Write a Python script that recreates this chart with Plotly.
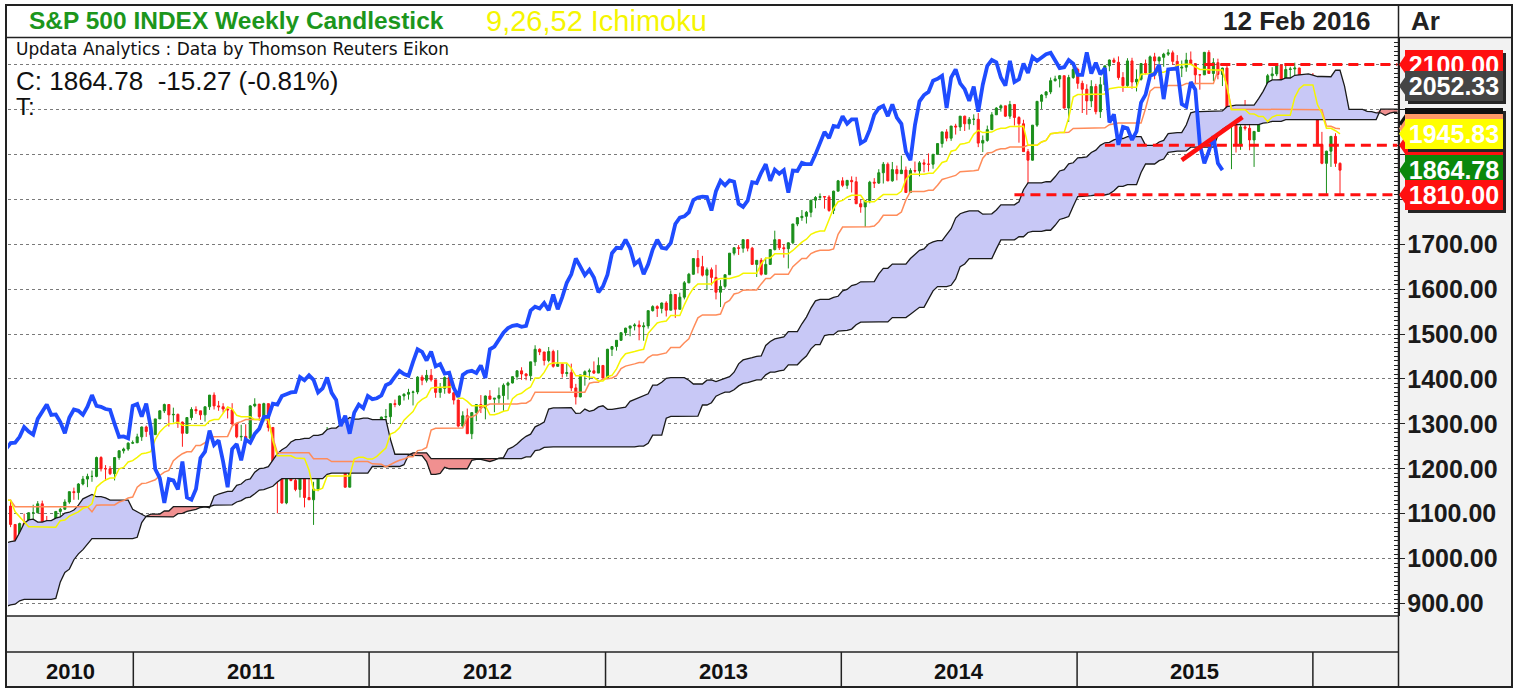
import numpy as np
import pandas as pd
import plotly.graph_objects as go

W, H = 1520, 688
def px(x): return x / W
def py(y): return 1 - y / H

# ---------------- data: S&P 500 weekly bars (Fridays), read/ -------------
first_week = "2008-12-05"

opens = [
    896, 876, 879, 888,
    873, 932, 890, 850, 832, 826, 869, 827, 770, 735, 683, 756, 768, 816, 843, 857, 870, 866, 877, 929, 882, 887,
    919, 940, 946, 921, 918, 896, 879, 940, 979, 987, 1010, 1005, 1026, 1029, 1016, 1042, 1068, 1044, 1025, 1071,
    1087, 1080, 1036, 1069, 1093, 1091, 1091, 1106, 1106, 1102,
    1126, 1115, 1145, 1136, 1091, 1074, 1066, 1075, 1109, 1104, 1139, 1150, 1160, 1167, 1179, 1194, 1192, 1217,
    1187, 1111, 1136, 1087, 1089, 1065, 1092, 1117, 1076, 1022, 1078, 1065, 1102, 1102, 1122, 1079, 1071, 1065,
    1105, 1110, 1126, 1149, 1147, 1166, 1177, 1183, 1183, 1225, 1200, 1200, 1189, 1225, 1240, 1244, 1257,
    1258, 1271, 1293, 1283, 1276, 1311, 1329, 1343, 1320, 1321, 1304, 1279, 1314, 1332, 1329, 1320, 1338, 1364,
    1340, 1338, 1333, 1331, 1300, 1271, 1272, 1268, 1340, 1344, 1316, 1345, 1292, 1199, 1179, 1124, 1177, 1174,
    1154, 1216, 1136, 1131, 1155, 1224, 1238, 1285, 1253, 1263, 1216, 1159, 1244, 1255, 1219, 1265,
    1258, 1278, 1289, 1315, 1316, 1345, 1343, 1362, 1366, 1370, 1371, 1404, 1397, 1408, 1398, 1370, 1379, 1403,
    1369, 1353, 1295, 1318, 1278, 1325, 1343, 1335, 1362, 1355, 1357, 1363, 1386, 1391, 1405, 1418, 1411, 1407,
    1438, 1466, 1460, 1441, 1461, 1428, 1433, 1412, 1414, 1380, 1360, 1409, 1416, 1418, 1413, 1430,
    1402, 1466, 1472, 1486, 1503, 1513, 1518, 1520, 1516, 1518, 1552, 1561, 1557, 1569, 1553, 1588, 1555, 1582,
    1614, 1633, 1668, 1650, 1631, 1643, 1626, 1593, 1606, 1632, 1680, 1692, 1691, 1710, 1691, 1655, 1664, 1633,
    1655, 1688, 1710, 1692, 1690, 1703, 1745, 1759, 1762, 1771, 1798, 1804, 1806, 1805, 1775, 1818,
    1841, 1831, 1842, 1839, 1790, 1783, 1797, 1838, 1836, 1859, 1878, 1841, 1866, 1857, 1865, 1815, 1864, 1863,
    1881, 1878, 1878, 1900, 1924, 1950, 1936, 1963, 1961, 1985, 1968, 1978, 1978, 1925, 1931, 1955, 1988, 2003,
    2008, 1985, 2011, 1982, 1968, 1906, 1887, 1965, 2018, 2032, 2039, 2064, 2068, 2075, 2003, 2071,
    2089, 2058, 2045, 2019, 2051, 1995, 2055, 2097, 2110, 2105, 2071, 2053, 2108, 2061, 2067, 2102, 2081, 2117,
    2108, 2116, 2123, 2126, 2107, 2092, 2094, 2110, 2102, 2077, 2077, 2127, 2080, 2104, 2078, 2092, 1971, 1989,
    1921, 1961, 1958, 1932, 1951, 2015, 2033, 2075, 2079, 2099, 2023, 2089, 2090, 2092, 2012, 2006,
    2061, 2038, 1922, 1880, 1907, 1940, 1880,
]
highs = [
    919, 917, 918, 889,
    934, 943, 890, 871, 877, 875, 878, 827, 779, 736, 758, 804, 832, 845, 857, 875, 871, 888, 930, 930, 924, 920,
    951, 956, 946, 929, 930, 898, 943, 980, 997, 1018, 1013, 1027, 1040, 1031, 1049, 1074, 1080, 1064, 1076,
    1097, 1101, 1086, 1072, 1101, 1113, 1107, 1120, 1107, 1117, 1127,
    1130, 1145, 1151, 1150, 1103, 1104, 1080, 1110, 1112, 1139, 1153, 1170, 1174, 1181, 1195, 1214, 1218, 1220,
    1197, 1174, 1150, 1104, 1105, 1093, 1120, 1131, 1076, 1080, 1100, 1103, 1120, 1128, 1129, 1095, 1080, 1105,
    1113, 1132, 1149, 1158, 1168, 1184, 1189, 1196, 1227, 1228, 1208, 1206, 1225, 1241, 1247, 1259, 1263,
    1278, 1294, 1296, 1302, 1311, 1330, 1345, 1344, 1336, 1323, 1305, 1314, 1337, 1339, 1329, 1338, 1364, 1370,
    1351, 1346, 1334, 1346, 1300, 1298, 1299, 1342, 1357, 1344, 1347, 1345, 1292, 1200, 1208, 1182, 1230, 1204,
    1220, 1224, 1195, 1171, 1224, 1239, 1293, 1285, 1277, 1264, 1216, 1255, 1267, 1255, 1266, 1270,
    1285, 1297, 1316, 1333, 1345, 1354, 1363, 1368, 1378, 1374, 1406, 1409, 1420, 1422, 1398, 1391, 1406, 1415,
    1371, 1354, 1328, 1334, 1325, 1343, 1364, 1363, 1375, 1357, 1381, 1390, 1394, 1406, 1419, 1426, 1413, 1438,
    1475, 1468, 1460, 1471, 1465, 1464, 1434, 1434, 1434, 1389, 1409, 1419, 1423, 1439, 1448, 1430,
    1467, 1473, 1486, 1503, 1514, 1518, 1524, 1530, 1526, 1552, 1564, 1564, 1570, 1573, 1597, 1589, 1592, 1618,
    1636, 1668, 1687, 1674, 1648, 1648, 1654, 1620, 1632, 1680, 1693, 1698, 1710, 1711, 1694, 1664, 1669, 1670,
    1689, 1730, 1710, 1700, 1704, 1745, 1760, 1776, 1774, 1798, 1807, 1813, 1806, 1809, 1819, 1843,
    1849, 1843, 1851, 1850, 1799, 1798, 1841, 1847, 1867, 1883, 1882, 1883, 1875, 1897, 1873, 1869, 1884, 1885,
    1889, 1902, 1901, 1924, 1950, 1956, 1963, 1968, 1985, 1986, 1983, 1989, 1992, 1942, 1964, 1994, 2005, 2011,
    2008, 2019, 2012, 1985, 1977, 1912, 1965, 2018, 2034, 2041, 2071, 2075, 2076, 2075, 2077, 2094,
    2093, 2064, 2056, 2065, 2057, 2072, 2097, 2111, 2115, 2118, 2083, 2114, 2115, 2089, 2103, 2111, 2120, 2126,
    2118, 2126, 2134, 2131, 2121, 2109, 2126, 2129, 2102, 2078, 2128, 2132, 2114, 2113, 2093, 2102, 1989, 1993,
    1976, 2021, 1970, 1952, 2020, 2034, 2079, 2094, 2102, 2100, 2097, 2095, 2104, 2093, 2076, 2064,
    2081, 2038, 1950, 1908, 1940, 1947, 1882,
]
lows = [
    815, 837, 857, 857,
    863, 888, 805, 804, 821, 812, 814, 754, 731, 667, 672, 743, 768, 779, 814, 836, 826, 845, 872, 878, 879, 882,
    919, 927, 904, 888, 896, 869, 875, 940, 969, 983, 990, 978, 1013, 992, 1013, 1038, 1041, 1020, 1025, 1069,
    1074, 1033, 1029, 1067, 1085, 1073, 1087, 1086, 1095, 1102,
    1114, 1113, 1131, 1090, 1071, 1045, 1057, 1075, 1086, 1103, 1134, 1147, 1152, 1164, 1176, 1186, 1183, 1181,
    1066, 1108, 1056, 1040, 1061, 1042, 1085, 1070, 1011, 1011, 1062, 1056, 1088, 1101, 1076, 1069, 1040, 1048,
    1091, 1108, 1122, 1131, 1131, 1163, 1159, 1171, 1181, 1194, 1173, 1186, 1174, 1220, 1234, 1240, 1255,
    1257, 1262, 1271, 1275, 1276, 1311, 1324, 1294, 1303, 1291, 1249, 1279, 1308, 1322, 1309, 1305, 1331, 1332,
    1329, 1325, 1312, 1297, 1268, 1262, 1265, 1268, 1337, 1307, 1305, 1283, 1168, 1101, 1122, 1121, 1172, 1150,
    1136, 1114, 1131, 1075, 1150, 1191, 1238, 1216, 1226, 1209, 1158, 1159, 1231, 1209, 1219, 1248,
    1258, 1277, 1286, 1306, 1300, 1337, 1340, 1352, 1354, 1341, 1366, 1386, 1392, 1394, 1358, 1358, 1367, 1367,
    1343, 1292, 1292, 1278, 1266, 1306, 1324, 1310, 1354, 1326, 1345, 1329, 1354, 1390, 1398, 1398, 1397, 1396,
    1429, 1453, 1430, 1437, 1425, 1428, 1403, 1405, 1373, 1343, 1359, 1385, 1398, 1411, 1413, 1398,
    1402, 1451, 1463, 1485, 1496, 1495, 1508, 1486, 1485, 1512, 1550, 1538, 1546, 1539, 1553, 1536, 1555, 1577,
    1613, 1632, 1635, 1628, 1598, 1608, 1577, 1560, 1601, 1632, 1675, 1676, 1681, 1684, 1654, 1627, 1630, 1633,
    1655, 1686, 1687, 1670, 1646, 1700, 1740, 1752, 1746, 1760, 1780, 1798, 1779, 1772, 1767, 1818,
    1827, 1823, 1815, 1790, 1770, 1738, 1791, 1825, 1834, 1835, 1840, 1839, 1842, 1857, 1814, 1814, 1859, 1851,
    1860, 1862, 1868, 1900, 1915, 1929, 1930, 1944, 1952, 1952, 1955, 1965, 1916, 1905, 1928, 1955, 1988, 1995,
    1983, 1979, 1964, 1926, 1906, 1821, 1886, 1961, 2001, 2025, 2034, 2062, 2049, 2002, 1972, 2068,
    2046, 1992, 1988, 2005, 1989, 1981, 2041, 2085, 2103, 2066, 2039, 2050, 2046, 2040, 2064, 2078, 2079, 2067,
    2074, 2095, 2119, 2099, 2085, 2072, 2084, 2101, 2056, 2044, 2077, 2079, 2063, 2067, 2052, 1971, 1867, 1904,
    1910, 1953, 1909, 1872, 1950, 1988, 2025, 2061, 2074, 2022, 2019, 2070, 2042, 2007, 2005, 2006,
    2043, 1918, 1878, 1812, 1872, 1872, 1810,
]
closes = [
    876, 879, 888, 873,
    932, 890, 850, 832, 826, 869, 827, 770, 735, 683, 756, 768, 816, 843, 857, 870, 866, 877, 929, 882, 887, 919,
    940, 946, 921, 918, 896, 879, 940, 979, 987, 1010, 1005, 1026, 1029, 1016, 1042, 1068, 1044, 1025, 1071,
    1087, 1080, 1036, 1069, 1093, 1091, 1091, 1106, 1106, 1102, 1126,
    1115, 1145, 1136, 1091, 1074, 1066, 1075, 1109, 1104, 1139, 1150, 1160, 1167, 1179, 1194, 1192, 1217, 1187,
    1111, 1136, 1087, 1089, 1065, 1092, 1117, 1076, 1022, 1078, 1065, 1102, 1102, 1122, 1079, 1071, 1065, 1105,
    1110, 1126, 1149, 1147, 1166, 1177, 1183, 1183, 1225, 1200, 1200, 1189, 1225, 1240, 1244, 1257, 1258,
    1271, 1293, 1283, 1276, 1311, 1329, 1343, 1320, 1321, 1304, 1279, 1314, 1332, 1329, 1320, 1338, 1364, 1340,
    1338, 1333, 1331, 1300, 1271, 1272, 1268, 1340, 1344, 1316, 1345, 1292, 1199, 1179, 1124, 1177, 1174, 1154,
    1216, 1136, 1131, 1155, 1224, 1238, 1285, 1253, 1263, 1216, 1159, 1244, 1255, 1219, 1265, 1258,
    1278, 1289, 1315, 1316, 1345, 1343, 1362, 1366, 1370, 1371, 1404, 1397, 1408, 1398, 1370, 1379, 1403, 1369,
    1353, 1295, 1318, 1278, 1325, 1343, 1335, 1362, 1355, 1357, 1363, 1386, 1391, 1405, 1418, 1411, 1407, 1438,
    1466, 1460, 1441, 1461, 1428, 1433, 1412, 1414, 1380, 1360, 1409, 1416, 1418, 1413, 1430, 1402,
    1466, 1472, 1486, 1503, 1513, 1518, 1520, 1516, 1518, 1552, 1561, 1557, 1569, 1553, 1588, 1555, 1582, 1614,
    1633, 1668, 1650, 1631, 1643, 1626, 1593, 1606, 1632, 1680, 1692, 1691, 1710, 1691, 1655, 1664, 1633, 1655,
    1688, 1710, 1692, 1690, 1703, 1745, 1759, 1762, 1771, 1798, 1804, 1806, 1805, 1775, 1818, 1841,
    1831, 1842, 1839, 1790, 1783, 1797, 1838, 1836, 1859, 1878, 1841, 1866, 1857, 1865, 1815, 1864, 1863, 1881,
    1878, 1878, 1900, 1924, 1950, 1936, 1963, 1961, 1985, 1968, 1978, 1978, 1925, 1931, 1955, 1988, 2003, 2008,
    1985, 2011, 1982, 1968, 1906, 1887, 1965, 2018, 2032, 2039, 2064, 2068, 2075, 2003, 2071, 2089,
    2058, 2045, 2019, 2051, 1995, 2055, 2097, 2110, 2105, 2071, 2053, 2108, 2061, 2067, 2102, 2081, 2117, 2108,
    2116, 2123, 2126, 2107, 2092, 2094, 2110, 2102, 2077, 2077, 2127, 2080, 2104, 2078, 2092, 1971, 1989, 1921,
    1961, 1958, 1932, 1951, 2015, 2033, 2075, 2079, 2099, 2023, 2089, 2090, 2092, 2012, 2006, 2061,
    2044, 1922, 1880, 1907, 1940, 1880, 1864.78,
]

# Ichimoku settings (9,26,52)
tenkan_len, kijun_len, spanb_len, shift = 9, 26, 52, 26

# price axis and x window
y_range = [872.2, 2159.0]
grid_levels = [900, 1000, 1100, 1200, 1300, 1400, 1500, 1600, 1700, 1800, 1900, 2000, 2100]
x_window = ["2010-06-21", "2016-05-11"]
years = [2010, 2011, 2012, 2013, 2014, 2015]

# horizontal support / resistance levels and trend line drawn on the chart
level_values = [2100, 1920, 1810]
level_starts = ["2015-07-17", "2015-02-13", "2014-09-26"]
trend_dates = ["2015-06-12", "2015-09-14"]
trend_values = [1887, 1983]

# right-hand value flags (bottom to top in drawing order); empty text = flag hidden behind others
flag_values = [2100.00, 2052.33, 1970.00, 1957.50, 1920.00, 1945.83, 1864.78, 1810.00]
flag_texts = ["2100.00", "2052.33", "", "", "", "1945.83", "1864.78", "1810.00"]
flag_colors = ["#ff1010", "#454545", "#111111", "#ff9966", "#ff1010", "#ffff00", "#0b880b", "#ff1010"]

# ---------------- computations ----------------
n = len(closes)
dates = pd.date_range(first_week, periods=n, freq="7D")
hi = pd.Series(highs, dtype=float)
lo = pd.Series(lows, dtype=float)
tenkan = (hi.rolling(tenkan_len).max() + lo.rolling(tenkan_len).min()) / 2
kijun = (hi.rolling(kijun_len).max() + lo.rolling(kijun_len).min()) / 2
span_a_raw = (tenkan + kijun) / 2
span_b_raw = (hi.rolling(spanb_len).max() + lo.rolling(spanb_len).min()) / 2

future = pd.date_range(dates[-1] + pd.Timedelta(days=7), periods=shift, freq="7D")
dates_ext = dates.append(future)
span_a = np.concatenate([np.full(shift, np.nan), span_a_raw.values])
span_b = np.concatenate([np.full(shift, np.nan), span_b_raw.values])
valid = ~np.isnan(span_a) & ~np.isnan(span_b)
cx = dates_ext[valid]
ca = span_a[valid]
cb = span_b[valid]
cup = np.maximum(ca, cb)

GREEN = "#1b8f1b"
RED = "#ff1a1a"
SANS = "Liberation Sans, Arial, sans-serif"

fig = go.Figure()
# cloud: lavender where A > B, pink where B > A
fig.add_trace(go.Scatter(x=cx, y=cb, mode="lines", line=dict(width=0), hoverinfo="skip"))
fig.add_trace(go.Scatter(x=cx, y=cup, mode="lines", line=dict(width=0), fill="tonexty",
                         fillcolor="#c8c8f6", hoverinfo="skip"))
fig.add_trace(go.Scatter(x=cx, y=ca, mode="lines", line=dict(width=0), hoverinfo="skip"))
fig.add_trace(go.Scatter(x=cx, y=cup, mode="lines", line=dict(width=0), fill="tonexty",
                         fillcolor="#f09090", hoverinfo="skip"))
fig.add_trace(go.Scatter(x=cx, y=ca, mode="lines", line=dict(color="#1a1a1a", width=1.3), hoverinfo="skip"))
fig.add_trace(go.Scatter(x=cx, y=cb, mode="lines", line=dict(color="#1a1a1a", width=1.3), hoverinfo="skip"))

fig.add_trace(go.Candlestick(
    x=dates, open=opens, high=highs, low=lows, close=closes,
    increasing=dict(line=dict(color=GREEN, width=1), fillcolor=GREEN),
    decreasing=dict(line=dict(color=RED, width=1), fillcolor=RED),
    whiskerwidth=0, hoverinfo="skip"))

fig.add_trace(go.Scatter(x=dates, y=kijun, mode="lines", line=dict(color="#ff8c5a", width=1.5), hoverinfo="skip"))
fig.add_trace(go.Scatter(x=dates, y=tenkan, mode="lines", line=dict(color="#f5f500", width=1.5), hoverinfo="skip"))
fig.add_trace(go.Scatter(x=dates[:n - shift], y=closes[shift:], mode="lines",
                         line=dict(color="#1f4cff", width=3.8), hoverinfo="skip"))

shapes = []
# grey panels
shapes.append(dict(type="rect", xref="paper", yref="paper", x0=px(6), x1=px(1398), y0=py(688), y1=py(616),
                   fillcolor="#f2f2f2", line=dict(width=0), layer="below"))
shapes.append(dict(type="rect", xref="paper", yref="paper", x0=px(1398), x1=px(1512), y0=py(688), y1=py(37),
                   fillcolor="#f2f2f2", line=dict(width=0), layer="below"))
# frame lines
for yy in (37.5, 616, 652):
    shapes.append(dict(type="line", xref="paper", yref="paper", x0=px(6), x1=px(1512) if yy == 37.5 else px(1398),
                       y0=py(yy), y1=py(yy), line=dict(color="#222", width=1.5)))
shapes.append(dict(type="line", xref="paper", yref="paper", x0=px(1398.5), x1=px(1398.5), y0=py(5), y1=py(688),
                   line=dict(color="#222", width=1.5)))
shapes.append(dict(type="rect", xref="paper", yref="paper", x0=px(6), x1=px(1512), y0=py(687), y1=py(5),
                   line=dict(color="#222", width=2)))
# year dividers
for yr in years[1:] + [2016]:
    shapes.append(dict(type="line", xref="x", yref="paper", x0=f"{yr}-01-01", x1=f"{yr}-01-01",
                       y0=py(688), y1=py(652), line=dict(color="#222", width=1.5)))
# dashed levels
for v, s in zip(level_values, level_starts):
    shapes.append(dict(type="line", xref="x", yref="y", x0=s, x1=x_window[1], y0=v, y1=v,
                       line=dict(color="#ff1010", width=3, dash="10px,6px")))
# trend line
shapes.append(dict(type="line", xref="x", yref="y", x0=trend_dates[0], x1=trend_dates[1],
                   y0=trend_values[0], y1=trend_values[1], line=dict(color="#ff1010", width=4.5)))
# flag arrow tips
units_per_px = (y_range[1] - y_range[0]) / 578.0
dy = 13 * units_per_px
for v, c in zip(flag_values, flag_colors):
    shapes.append(dict(type="path", xref="paper", yref="y",
                       path=f"M {px(1399)},{v} L {px(1408)},{v + dy} L {px(1408)},{v - dy} Z",
                       fillcolor=c, line=dict(width=0)))

ann = []
ann.append(dict(x=px(27), y=py(21), xref="paper", yref="paper", xanchor="left", yanchor="middle",
                text="S&amp;P 500 INDEX Weekly Candlestick", showarrow=False,
                font=dict(family=SANS, size=24.5, color="#1c961c", weight="bold")))
ann.append(dict(x=px(484), y=py(21), xref="paper", yref="paper", xanchor="left", yanchor="middle",
                text="9,26,52 Ichimoku", showarrow=False,
                font=dict(family=SANS, size=29, color="#f5f500")))
ann.append(dict(x=px(1372), y=py(21), xref="paper", yref="paper", xanchor="right", yanchor="middle",
                text="12 Feb 2016", showarrow=False,
                font=dict(family=SANS, size=26, color="#222", weight="bold")))
ann.append(dict(x=px(1409), y=py(21), xref="paper", yref="paper", xanchor="left", yanchor="middle",
                text="Ar", showarrow=False, font=dict(family=SANS, size=26, color="#222", weight="bold")))
ann.append(dict(x=px(14), y=py(49), xref="paper", yref="paper", xanchor="left", yanchor="middle",
                text="Updata Analytics : Data by Thomson Reuters Eikon", showarrow=False,
                font=dict(family="DejaVu Sans, sans-serif", size=17, color="#111")))
ann.append(dict(x=px(14), y=py(81), xref="paper", yref="paper", xanchor="left", yanchor="middle",
                text="C: 1864.78\u00a0\u00a0-15.27 (-0.81%)", showarrow=False,
                font=dict(family=SANS, size=26, color="#111")))
ann.append(dict(x=px(14), y=py(107), xref="paper", yref="paper", xanchor="left", yanchor="middle",
                text="T:", showarrow=False, font=dict(family=SANS, size=24, color="#111")))

# year labels, centred on the visible part of each year
x0w = pd.Timestamp(x_window[0])
for yr in years:
    a = max(pd.Timestamp(f"{yr}-01-01"), x0w)
    b = pd.Timestamp(f"{yr + 1}-01-01")
    mid = a + (b - a) / 2
    ann.append(dict(x=mid, y=py(671), xref="x", yref="paper", xanchor="center", yanchor="middle",
                    text=str(yr), showarrow=False,
                    font=dict(family=SANS, size=22, color="#111", weight="bold")))

# value flags with shadows
for v, t, c in zip(flag_values, flag_texts, flag_colors):
    ann.append(dict(x=px(1454), y=v, xref="paper", yref="y", xanchor="center", yanchor="middle",
                    text=" ", showarrow=False, width=94, height=26, borderpad=1, borderwidth=1,
                    bgcolor="#262626", bordercolor="#262626", xshift=3, yshift=-3))
    ann.append(dict(x=px(1454), y=v, xref="paper", yref="y", xanchor="center", yanchor="middle",
                    text=t if t else " ", showarrow=False, width=94, height=26, borderpad=1, borderwidth=1,
                    bgcolor=c, bordercolor=c,
                    font=dict(family=SANS, size=25, color="white", weight="bold")))

tick_text = [f"{v:.2f}" if v <= 1700 else "" for v in grid_levels]

fig.update_layout(
    width=W, height=H, margin=dict(l=0, r=0, t=0, b=0),
    paper_bgcolor="white", plot_bgcolor="white", showlegend=False, hovermode=False,
    boxgap=0.35, shapes=shapes, annotations=ann,
    xaxis=dict(type="date", domain=[px(8), px(1397.5)], range=x_window, showgrid=False,
               showticklabels=False, ticks="", showline=False, zeroline=False,
               rangeslider=dict(visible=False)),
    yaxis=dict(domain=[py(616), py(38)], range=y_range, side="right",
               tickmode="array", tickvals=grid_levels, ticktext=tick_text,
               showgrid=True, gridcolor="#7a7a7a", griddash="dot", gridwidth=1,
               ticks="outside", ticklen=6, tickcolor="#222", tickwidth=1,
               showline=True, linecolor="#222", linewidth=1.5, zeroline=False,
               ticklabelstandoff=-3,
               tickfont=dict(family=SANS, size=25, color="#1a1a1a", weight="bold"),
               minor=dict(tickmode="linear", tick0=0, dtick=10, ticks="inside", ticklen=4,
                          tickcolor="#222", showgrid=False)),
)

fig.write_html("out.html", config={"displayModeBar": False},
               post_script="document.body.style.margin='0';document.body.style.padding='0';")
